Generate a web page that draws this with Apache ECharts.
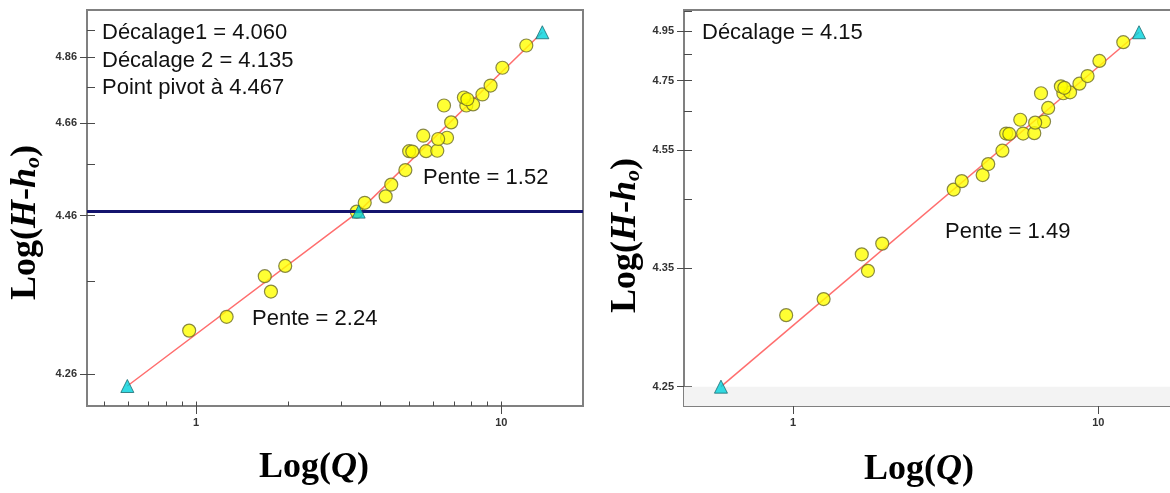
<!DOCTYPE html>
<html><head><meta charset="utf-8">
<script src="https://cdn.jsdelivr.net/npm/echarts@6/dist/echarts.min.js"></script>
<style>html,body{margin:0;padding:0;background:#fff;overflow:hidden}#c{width:1170px;height:493px}</style>
</head><body><div id="c"></div>
<script>
// Gaugings (same set in both panels): discharge Q and stage H
const Q_OBS = [0.95,1.26,1.68,1.76,1.96,3.36,3.57,4.18,4.36,4.85,4.99,5.11,5.67,6.17,5.55,6.64,6.21,6.85,6.49,7.68,8.08,7.54,7.74,8.67,9.22,10.08,12.07];
const H_OBS = [4.302,4.317,4.367,4.347,4.381,4.467,4.483,4.495,4.518,4.548,4.590,4.589,4.590,4.591,4.627,4.622,4.619,4.661,4.707,4.707,4.710,4.730,4.725,4.739,4.766,4.823,4.901];
// Fitted rating-curve lines (end points, and pivot for the left panel)
const LEFT_FIT_Q = [0.596, 3.41, 13.62];
const LEFT_FIT_H = [4.25, 4.467, 4.951];
const RIGHT_FIT_Q = [0.581, 13.59];
const RIGHT_FIT_H = [4.25, 4.946];
const LEFT_OFFSET = 4.06;
const RIGHT_OFFSET = 4.15;
const PIVOT_H = 4.467;
const RIGHT_BAND_H = 4.25;
// Tick values
const X_MAJOR = [1, 10];
const X_MINOR = [0.5,0.6,0.7,0.8,0.9,2,3,4,5,6,7,8,9];
const LEFT_Y_MAJOR = [4.26,4.46,4.66,4.86];
const LEFT_Y_MINOR = [4.36,4.56,4.76,4.96];
const RIGHT_Y_MAJOR = [4.25,4.35,4.55,4.75,4.95];
const RIGHT_Y_MINOR = [4.45,4.65,4.85,5.05];
// Axis extents
const X_RANGE = [0.4397, 18.51];
const LEFT_Y_RANGE = [4.2341, 5.042];
const RIGHT_Y_RANGE = [4.2393, 5.0567];

const lx = q => Math.log10(q);
const lyf = off => h => Math.log10(h - off);

const AXIS_GRAY = '#808080';
const TICK_COL = '#4a4a4a';
const LABEL_STYLE = {fontSize: 11, fontWeight: 'bold', color: '#333', fontFamily: '"Liberation Sans", Arial, sans-serif'};

function makeX(gi) {
  const base = {type: 'value', gridIndex: gi, position: 'bottom', min: lx(X_RANGE[0]), max: lx(X_RANGE[1]), splitLine: {show: false}};
  return [
    Object.assign({}, base, {
      axisLine: {show: true, onZero: false, lineStyle: {color: AXIS_GRAY, width: 2}},
      axisTick: {show: true, inside: false, length: 8, customValues: X_MAJOR.map(lx), lineStyle: {color: TICK_COL, width: 1}},
      axisLabel: Object.assign({show: true, margin: 11, customValues: X_MAJOR.map(lx), formatter: v => String(Math.round(Math.pow(10, v)))}, LABEL_STYLE)
    }),
    Object.assign({}, base, {
      axisLine: {show: false, onZero: false},
      axisTick: {show: true, inside: true, length: 4.5, customValues: X_MINOR.concat(X_MAJOR).map(lx), lineStyle: {color: TICK_COL, width: 1}},
      axisLabel: {show: false}
    })
  ];
}
function makeY(gi, off, range, major, minor) {
  const ly = lyf(off);
  const base = {type: 'value', gridIndex: gi, position: 'left', min: ly(range[0]), max: ly(range[1]), splitLine: {show: false}};
  return [
    Object.assign({}, base, {
      axisLine: {show: true, onZero: false, lineStyle: {color: AXIS_GRAY, width: 2}},
      axisTick: {show: true, inside: false, length: 7, customValues: major.map(ly), lineStyle: {color: TICK_COL, width: 1}},
      axisLabel: Object.assign({show: true, margin: 10, customValues: major.map(ly), formatter: v => (Math.pow(10, v) + off).toFixed(2)}, LABEL_STYLE)
    }),
    Object.assign({}, base, {
      axisLine: {show: false, onZero: false},
      axisTick: {show: true, inside: true, length: 8, customValues: minor.concat(major).map(ly), lineStyle: {color: TICK_COL, width: 1}},
      axisLabel: {show: false}
    })
  ];
}
function pts(qs, hs, off) { const ly = lyf(off); return qs.map((q, i) => [lx(q), ly(hs[i])]); }

const chart = echarts.init(document.getElementById('c'), null, {renderer: 'canvas'});

const POINT_STYLE = {color: '#ffff00', borderColor: '#6b6b2a', borderWidth: 1.2};
const TRI_STYLE = {color: '#00d2dc', borderColor: '#1b6a70', borderWidth: 1};
const FIT_LINE = {color: '#ff6e6e', width: 1.5};

function seriesFor(gi, off, fitQ, fitH, extra) {
  const s = [
    {type: 'line', xAxisIndex: 2 * gi, yAxisIndex: 2 * gi, data: pts(fitQ, fitH, off), symbol: 'none', lineStyle: FIT_LINE, z: 2, silent: true},
    {type: 'scatter', xAxisIndex: 2 * gi, yAxisIndex: 2 * gi, data: pts(Q_OBS, H_OBS, off), symbol: 'circle', symbolSize: 13, itemStyle: POINT_STYLE, z: 4, silent: true},
    {type: 'scatter', xAxisIndex: 2 * gi, yAxisIndex: 2 * gi, data: pts(fitQ, fitH, off), symbol: 'triangle', symbolSize: 13, itemStyle: TRI_STYLE, z: 5, silent: true}
  ];
  if (extra) s.push(extra);
  return s;
}

const lyL = lyf(LEFT_OFFSET), lyR = lyf(RIGHT_OFFSET);
const TXT_FONT = '22px "Liberation Sans", Arial, sans-serif';
function txt(x, baseline, s) {
  return {type: 'text', x: x, y: baseline - 7, z: 10, silent: true, style: {text: s, font: TXT_FONT, fill: '#111', align: 'left', verticalAlign: 'middle'}};
}
const RICH = {
  n: {fontFamily: '"Liberation Serif", "Times New Roman", serif', fontWeight: 'bold', fontSize: 36, color: '#000'},
  i: {fontFamily: '"Liberation Serif", "Times New Roman", serif', fontWeight: 'bold', fontStyle: 'italic', fontSize: 36, color: '#000'},
  s: {fontFamily: '"Liberation Serif", "Times New Roman", serif', fontWeight: 'bold', fontStyle: 'italic', fontSize: 22, color: '#000', verticalAlign: 'bottom'}
};
function xTitle(cx, cy) {
  return {type: 'text', x: cx, y: cy, z: 10, silent: true, style: {text: '{n|Log(}{i|Q}{n|)}', rich: RICH, align: 'center', verticalAlign: 'middle'}};
}
function yTitle(x, y) {
  return {type: 'text', x: x, y: y, rotation: Math.PI / 2, z: 10, silent: true, style: {text: '{n|Log(}{i|H}{n|-}{i|h}{s|o}{n|)}', rich: RICH, align: 'left', verticalAlign: 'middle'}};
}

chart.setOption({
  animation: false,
  backgroundColor: '#fff',
  grid: [
    {left: 87, top: 10, width: 496, height: 396, show: true, borderColor: AXIS_GRAY, borderWidth: 2, backgroundColor: 'transparent', containLabel: false, outerBoundsMode: 'none'},
    {left: 684, top: 10, width: 496, height: 396, show: true, borderColor: AXIS_GRAY, borderWidth: 2, backgroundColor: 'transparent', containLabel: false, outerBoundsMode: 'none'}
  ],
  xAxis: makeX(0).concat(makeX(1)),
  yAxis: makeY(0, LEFT_OFFSET, LEFT_Y_RANGE, LEFT_Y_MAJOR, LEFT_Y_MINOR).concat(makeY(1, RIGHT_OFFSET, RIGHT_Y_RANGE, RIGHT_Y_MAJOR, RIGHT_Y_MINOR)),
  series: seriesFor(0, LEFT_OFFSET, LEFT_FIT_Q, LEFT_FIT_H, {
      type: 'line', xAxisIndex: 0, yAxisIndex: 0, data: [], z: 3, silent: true,
      markLine: {silent: true, symbol: 'none', label: {show: false}, animation: false,
        lineStyle: {color: '#14146e', width: 3, type: 'solid'}, data: [{yAxis: lyL(PIVOT_H)}]}
    }).concat(seriesFor(1, RIGHT_OFFSET, RIGHT_FIT_Q, RIGHT_FIT_H, {
      type: 'line', xAxisIndex: 2, yAxisIndex: 2, data: [], z: 1, silent: true,
      markArea: {silent: true, itemStyle: {color: '#f3f3f3'}, label: {show: false},
        data: [[{yAxis: lyR(RIGHT_Y_RANGE[0])}, {yAxis: lyR(RIGHT_BAND_H)}]]}
    })),
  graphic: [
    txt(102, 40, 'Décalage1 = 4.060'),
    txt(102, 68, 'Décalage 2 = 4.135'),
    txt(102, 95, 'Point pivot à 4.467'),
    txt(423, 185, 'Pente = 1.52'),
    txt(252, 326, 'Pente = 2.24'),
    txt(702, 40, 'Décalage = 4.15'),
    txt(945, 239, 'Pente = 1.49'),
    xTitle(314, 468),
    xTitle(919, 470),
    yTitle(26, 300),
    yTitle(626, 313)
  ]
});
</script></body></html>
